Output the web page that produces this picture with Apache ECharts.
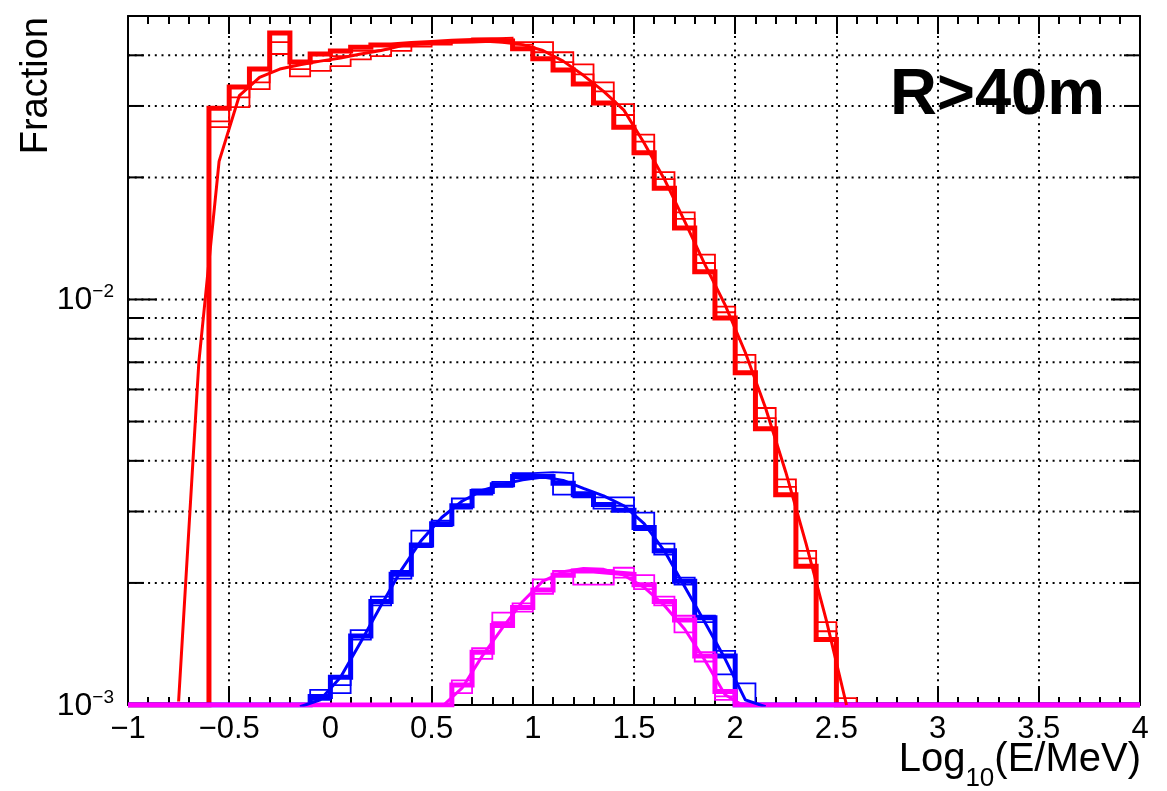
<!DOCTYPE html>
<html>
<head>
<meta charset="utf-8">
<script src="https://cdn.jsdelivr.net/npm/echarts@6/dist/echarts.min.js"></script>
<style>
html,body{margin:0;padding:0;background:#fff;}
#chart{width:1167px;height:791px;}
</style>
</head>
<body>
<div id="chart"></div>
<script>
// ---------- axis ranges & tick values ----------
const X_MIN = -1, X_MAX = 4, BIN = 0.1;
const Y_MIN = 0.001, Y_MAX = 0.05;
const yTickValues = [0.001, 0.002, 0.003, 0.004, 0.005, 0.006, 0.007, 0.008, 0.009,
                     0.01, 0.02, 0.03, 0.04];

// ---------- red histograms (bins of 0.1, first bin edge = redStart) ----------
const redStart = -0.6;
const redThick = [29.6e-3, 33.4e-3, 37.0e-3, 45.4e-3, 38.5e-3, 40.3e-3, 41.0e-3, 41.9e-3, 42.4e-3, 42.8e-3,
                  43.0e-3, 43.3e-3, 43.5e-3, 43.6e-3, 43.4e-3, 41.5e-3, 39.2e-3, 36.8e-3, 34.0e-3, 30.5e-3,
                  26.6e-3, 23.0e-3, 18.8e-3, 15.0e-3, 11.7e-3, 9.0e-3, 6.6e-3, 4.8e-3, 3.3e-3, 2.2e-3,
                  1.45e-3, 0];
const redThinA = [27.5e-3, 31.5e-3, 34.3e-3, 43.1e-3, 37.0e-3, 38.7e-3, 39.8e-3, 41.0e-3, 41.4e-3, 42.0e-3,
                  42.5e-3, 43.0e-3, 43.5e-3, 44.0e-3, 44.2e-3, 43.1e-3, 43.1e-3, 40.7e-3, 38.0e-3, 34.3e-3,
                  30.3e-3, 25.5e-3, 20.6e-3, 16.4e-3, 12.9e-3, 9.6e-3, 7.3e-3, 5.4e-3, 3.6e-3, 2.4e-3,
                  1.6e-3, 1.04e-3];
const redThinB = [26.6e-3, 29.8e-3, 33.0e-3, 40.3e-3, 35.5e-3, 36.6e-3, 37.6e-3, 39.1e-3, 39.8e-3, 41.0e-3,
                  42.0e-3, 42.5e-3, 43.0e-3, 43.2e-3, 43.0e-3, 42.5e-3, 40.7e-3, 38.5e-3, 35.9e-3, 32.6e-3,
                  28.5e-3, 24.5e-3, 19.8e-3, 15.8e-3, 12.3e-3, 9.3e-3, 7.0e-3, 5.1e-3, 3.45e-3, 2.3e-3,
                  1.52e-3, 0];
// red fit curve, sampled at bin centres starting at redFitStart
const redFitStart = -0.75;
const redFit = [1.02e-3, 7.0e-3, 21.9e-3, 31.8e-3, 35.3e-3, 37.0e-3, 37.9e-3, 38.7e-3, 39.4e-3, 40.3e-3,
                41.1e-3, 42.2e-3, 42.8e-3, 43.2e-3, 43.4e-3, 43.4e-3, 43.1e-3, 42.5e-3, 41.1e-3, 38.7e-3,
                35.7e-3, 32.6e-3, 29.3e-3, 24.3e-3, 19.8e-3, 15.6e-3, 12.2e-3, 9.7e-3, 7.4e-3, 5.4e-3,
                3.75e-3, 2.5e-3, 1.62e-3, 1.0e-3];

// ---------- blue histograms ----------
const blueStart = -0.1;
const blueThick = [1.05e-3, 1.17e-3, 1.48e-3, 1.80e-3, 2.10e-3, 2.48e-3, 2.80e-3, 3.10e-3, 3.36e-3, 3.49e-3,
                   3.66e-3, 3.66e-3, 3.52e-3, 3.30e-3, 3.12e-3, 3.02e-3, 2.74e-3, 2.40e-3, 2.02e-3, 1.64e-3,
                   1.32e-3, 0];
const blueThinA = [1.09e-3, 1.07e-3, 1.53e-3, 1.85e-3, 2.05e-3, 2.69e-3, 2.85e-3, 3.23e-3, 3.30e-3, 3.55e-3,
                   3.73e-3, 3.75e-3, 3.73e-3, 3.25e-3, 3.25e-3, 3.25e-3, 2.98e-3, 2.50e-3, 1.98e-3, 1.60e-3,
                   1.19e-3, 1.13e-3];
const blueThinB = [1.03e-3, 1.12e-3, 1.45e-3, 1.76e-3, 2.14e-3, 2.45e-3, 2.76e-3, 3.05e-3, 3.40e-3, 3.45e-3,
                   3.62e-3, 3.70e-3, 3.30e-3, 3.35e-3, 3.05e-3, 3.10e-3, 2.70e-3, 2.35e-3, 2.06e-3, 1.66e-3,
                   1.36e-3, 0];
const blueFitStart = -0.15;
const blueFit = [0.99e-3, 1.03e-3, 1.17e-3, 1.43e-3, 1.76e-3, 2.15e-3, 2.55e-3, 2.90e-3, 3.18e-3, 3.38e-3,
                 3.50e-3, 3.59e-3, 3.65e-3, 3.58e-3, 3.42e-3, 3.28e-3, 3.10e-3, 2.80e-3, 2.40e-3, 1.96e-3,
                 1.60e-3, 1.30e-3, 1.03e-3, 0.99e-3];

// ---------- magenta histograms ----------
const magStart = 0.6;
const magThick = [1.12e-3, 1.35e-3, 1.57e-3, 1.74e-3, 1.92e-3, 2.09e-3, 2.14e-3, 2.12e-3, 2.10e-3, 1.98e-3,
                  1.80e-3, 1.62e-3, 1.32e-3, 1.08e-3, 0];
const magThinA = [1.07e-3, 1.30e-3, 1.69e-3, 1.78e-3, 2.04e-3, 2.11e-3, 1.98e-3, 1.98e-3, 2.18e-3, 2.09e-3,
                  1.85e-3, 1.51e-3, 1.35e-3, 1.05e-3, 0];
const magThinB = [1.15e-3, 1.38e-3, 1.60e-3, 1.70e-3, 1.88e-3, 2.14e-3, 2.16e-3, 2.15e-3, 2.06e-3, 1.93e-3,
                  1.76e-3, 1.66e-3, 1.28e-3, 1.03e-3, 0];
const magFitStart = 0.55;
const magFit = [0.99e-3, 1.10e-3, 1.32e-3, 1.55e-3, 1.80e-3, 2.02e-3, 2.13e-3, 2.17e-3, 2.16e-3, 2.09e-3,
                1.95e-3, 1.76e-3, 1.54e-3, 1.29e-3, 1.06e-3, 0.99e-3];

// ---------- text ----------
const yTitle = 'Fraction';
const xTitleMain = 'Log', xTitleSub = '10', xTitleRest = '(E/MeV)';
const label = 'R>40m';

// ---------- helpers ----------
const FONT = '"Liberation Sans", Arial, Helvetica, sans-serif';
const RED = '#ff0000', BLUE = '#0000ff', MAG = '#ff00ff';
const TITLE_SIZE = 40, SUB_SIZE = 26;

function histData(start, vals) {
  const nBins = Math.round((X_MAX - X_MIN) / BIN);
  const pts = [];
  for (let i = 0; i < nBins; i++) {
    const edge = +(X_MIN + i * BIN).toFixed(3);
    const k = Math.round((edge - start) / BIN);
    const v = (k >= 0 && k < vals.length) ? vals[k] : 0;
    pts.push([edge, Math.max(v, Y_MIN)]);   // empty bins are drawn on the frame (ROOT style)
  }
  pts.push([X_MAX, pts[pts.length - 1][1]]);
  return pts;
}
function fitData(start, vals) {
  return vals.map((v, i) => [+(start + i * BIN).toFixed(3), v]);
}
function isPow10(v) {
  const l = Math.log10(v);
  return Math.abs(l - Math.round(l)) < 1e-6;
}
function fmtX(v) {
  if (Math.abs(v) < 1e-9) return '0';
  return v < 0 ? '\u2212' + String(+Math.abs(v).toFixed(2)) : String(+v.toFixed(2));
}
function textWidth(str, size) {
  const ctx = document.createElement('canvas').getContext('2d');
  ctx.font = size + 'px ' + FONT;
  return ctx.measureText(str).width;
}

function histSeries(name, start, vals, color, width) {
  return {
    name, type: 'line', step: 'end', data: histData(start, vals),
    symbol: 'none', showSymbol: false, silent: true, animation: false, z: 3,
    lineStyle: { color, width, join: 'miter', cap: 'butt' }
  };
}
function fitSeries(name, start, vals, color) {
  return {
    name, type: 'line', data: fitData(start, vals),
    symbol: 'none', showSymbol: false, silent: true, animation: false, z: 4,
    lineStyle: { color, width: 3, join: 'round' }
  };
}

function renderYGrid(params, api) {
  const v = api.value(1);
  const p = api.coord([api.value(0), v]);
  const cs = params.coordSys;
  const y = p[1];
  const major = isPow10(v);
  const len = major ? 29 : 16;
  const children = [];
  if (v > Y_MIN * 1.0001) {
    children.push({ type: 'line', shape: { x1: cs.x, y1: y, x2: cs.x + cs.width, y2: y },
      style: { stroke: '#000', lineWidth: 2, lineDash: [2, 4.7] } });
  }
  children.push({ type: 'line', shape: { x1: cs.x, y1: y, x2: cs.x + len, y2: y },
    style: { stroke: '#000', lineWidth: 2 } });
  children.push({ type: 'line', shape: { x1: cs.x + cs.width - len, y1: y, x2: cs.x + cs.width, y2: y },
    style: { stroke: '#000', lineWidth: 2 } });
  return { type: 'group', children };
}

const axisLineStyle = { color: '#000', width: 2 };

// x-axis title pieces (right aligned at the frame edge, subscript "10")
const TITLE_RIGHT = 1141;
const wRest = textWidth(xTitleRest, TITLE_SIZE);
const wSub = textWidth(xTitleSub, SUB_SIZE);

const option = {
  backgroundColor: '#fff',
  animation: false,
  grid: { left: 128, right: 27, top: 16, bottom: 86, containLabel: false, outerBoundsMode: 'none' },
  xAxis: [
    {
      type: 'value', min: X_MIN, max: X_MAX, interval: 0.5, position: 'bottom',
      axisLine: { show: true, onZero: false, lineStyle: axisLineStyle },
      axisTick: { show: true, inside: true, length: 18, lineStyle: { color: '#000', width: 2 } },
      minorTick: { show: true, splitNumber: 5, length: 8, lineStyle: { color: '#000', width: 2 } },
      splitLine: { show: true, lineStyle: { color: '#000', width: 2, type: [2, 4.7] } },
      minorSplitLine: { show: false },
      axisLabel: { show: true, margin: 9, fontSize: 31, fontFamily: FONT, color: '#000',
                   formatter: fmtX, showMinLabel: true, showMaxLabel: true, hideOverlap: false }
    },
    {
      type: 'value', min: X_MIN, max: X_MAX, interval: 0.5, position: 'top',
      axisLine: { show: true, onZero: false, lineStyle: axisLineStyle },
      axisTick: { show: true, inside: true, length: 18, lineStyle: { color: '#000', width: 2 } },
      minorTick: { show: true, splitNumber: 5, length: 8, lineStyle: { color: '#000', width: 2 } },
      splitLine: { show: false },
      axisLabel: { show: false }
    }
  ],
  yAxis: [
    {
      type: 'log', logBase: 10, min: Y_MIN, max: Y_MAX, position: 'left',
      axisLine: { show: true, onZero: false, lineStyle: axisLineStyle },
      axisTick: { show: false }, minorTick: { show: false },
      splitLine: { show: false },
      axisLabel: {
        show: true, margin: 14, showMinLabel: true, showMaxLabel: false, hideOverlap: false,
        formatter: function (v) {
          if (!isPow10(v)) return '';
          const e = Math.round(Math.log10(v));
          return '{b|10}{s|' + (e < 0 ? '\u2212' + (-e) : e) + '}';
        },
        rich: {
          b: { fontSize: 32, fontFamily: FONT, color: '#000', lineHeight: 34, verticalAlign: 'bottom' },
          s: { fontSize: 19, fontFamily: FONT, color: '#000', lineHeight: 22, verticalAlign: 'top' }
        }
      }
    },
    {
      type: 'log', logBase: 10, min: Y_MIN, max: Y_MAX, position: 'right',
      axisLine: { show: true, onZero: false, lineStyle: axisLineStyle },
      axisTick: { show: false }, minorTick: { show: false },
      splitLine: { show: false }, axisLabel: { show: false }
    }
  ],
  series: [
    {
      name: 'ygrid', type: 'custom', xAxisIndex: 0, yAxisIndex: 0, z: 1, silent: true, clip: false,
      renderItem: renderYGrid, encode: { x: 0, y: 1 },
      data: yTickValues.map(v => [X_MIN, v])
    },
    histSeries('red thin A', redStart, redThinA, RED, 1.8),
    histSeries('red thin B', redStart, redThinB, RED, 1.8),
    histSeries('red', redStart, redThick, RED, 5),
    fitSeries('red fit', redFitStart, redFit, RED),
    histSeries('blue thin A', blueStart, blueThinA, BLUE, 1.8),
    histSeries('blue thin B', blueStart, blueThinB, BLUE, 1.8),
    histSeries('blue', blueStart, blueThick, BLUE, 5),
    fitSeries('blue fit', blueFitStart, blueFit, BLUE),
    histSeries('magenta thin A', magStart, magThinA, MAG, 1.8),
    histSeries('magenta thin B', magStart, magThinB, MAG, 1.8),
    histSeries('magenta', magStart, magThick, MAG, 5),
    fitSeries('magenta fit', magFitStart, magFit, MAG)
  ],
  graphic: [
    {
      type: 'text', x: 37, y: 17, rotation: Math.PI / 2, silent: true,
      style: { text: yTitle, fontSize: 38, fontFamily: FONT, fill: '#000', align: 'right', verticalAlign: 'middle' }
    },
    {
      type: 'text', x: TITLE_RIGHT, y: 760, silent: true,
      style: { text: xTitleRest, fontSize: TITLE_SIZE, fontFamily: FONT, fill: '#000', align: 'right', verticalAlign: 'middle' }
    },
    {
      type: 'text', x: TITLE_RIGHT - wRest, y: 779, silent: true,
      style: { text: xTitleSub, fontSize: SUB_SIZE, fontFamily: FONT, fill: '#000', align: 'right', verticalAlign: 'middle' }
    },
    {
      type: 'text', x: TITLE_RIGHT - wRest - wSub, y: 760, silent: true,
      style: { text: xTitleMain, fontSize: TITLE_SIZE, fontFamily: FONT, fill: '#000', align: 'right', verticalAlign: 'middle' }
    },
    {
      type: 'text', x: 890, y: 96, silent: true,
      style: { text: label, fontSize: 65, fontWeight: 'bold', fontFamily: FONT, fill: '#000', align: 'left', verticalAlign: 'middle' }
    }
  ]
};

const chart = echarts.init(document.getElementById('chart'), null, { renderer: 'canvas', width: 1167, height: 791 });
chart.setOption(option);
</script>
</body>
</html>
